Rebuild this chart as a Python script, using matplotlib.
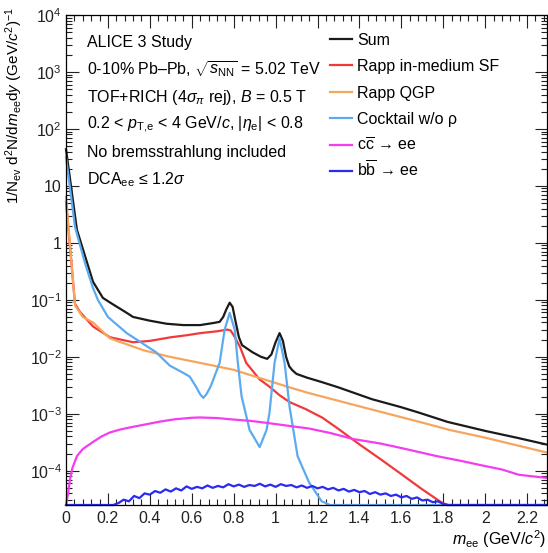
import matplotlib
matplotlib.use("Agg")
import matplotlib.pyplot as plt
import numpy as np
from matplotlib.ticker import MultipleLocator, FixedLocator, FuncFormatter, NullFormatter

plt.rcParams['font.family'] = ['Liberation Sans', 'DejaVu Sans']
plt.rcParams['mathtext.fontset'] = 'custom'
plt.rcParams['mathtext.rm'] = 'Liberation Sans'
plt.rcParams['mathtext.it'] = 'Liberation Sans:italic'
plt.rcParams['mathtext.bf'] = 'Liberation Sans:bold'
plt.rcParams['font.size'] = 11.5

# ---- data (m_ee in GeV/c^2, yield per event) ----
sum_x = [0.0, 0.052, 0.09, 0.129, 0.176, 0.22, 0.29, 0.32, 0.40, 0.48, 0.56, 0.64, 0.70,
         0.733, 0.75, 0.765, 0.781, 0.795, 0.81, 0.825, 0.84, 0.89, 0.93, 0.96, 0.98, 1.00,
         1.019, 1.035, 1.05, 1.065, 1.08, 1.10, 1.15, 1.22, 1.30, 1.46, 1.60, 1.686, 1.82,
         2.00, 2.15, 2.29]
sum_y = [44, 1.7, 0.60, 0.207, 0.108, 0.085, 0.059, 0.050, 0.043, 0.038, 0.036, 0.036, 0.039,
         0.041, 0.050, 0.068, 0.089, 0.075, 0.040, 0.022, 0.016, 0.012, 0.010, 0.0092, 0.011,
         0.018, 0.026, 0.019, 0.010, 0.0068, 0.0058, 0.0050, 0.0043, 0.0036, 0.0029, 0.0018,
         0.0013, 0.00104, 0.00072, 0.00050, 0.00038, 0.00029]

rapp_sf_x = [0.0, 0.043, 0.067, 0.129, 0.21, 0.32, 0.40, 0.50, 0.58, 0.64, 0.72, 0.77, 0.785,
             0.80, 0.83, 0.86, 0.924, 0.97, 1.02, 1.067, 1.145, 1.224, 1.30, 1.40, 1.50, 1.60,
             1.70, 1.79, 1.82]
rapp_sf_y = [5.3, 0.085, 0.061, 0.034, 0.022, 0.018, 0.019, 0.022, 0.024, 0.026, 0.028, 0.030,
             0.029, 0.024, 0.015, 0.0078, 0.0040, 0.0030, 0.0021, 0.0016, 0.0012, 0.00085,
             0.00054, 0.00029, 0.00016, 0.000087, 0.000047, 0.000028, 0.00002]

rapp_qgp_x = [0.0, 0.043, 0.08, 0.129, 0.21, 0.37, 0.495, 0.64, 0.80, 1.067, 1.16, 1.40,
              1.686, 1.83, 2.00, 2.29]
rapp_qgp_y = [6.4, 0.08, 0.050, 0.040, 0.021, 0.013, 0.010, 0.0078, 0.0059, 0.0029, 0.0023,
              0.00135, 0.00072, 0.00052, 0.00038, 0.00021]

cocktail_x = [0.0, 0.043, 0.09, 0.129, 0.152, 0.20, 0.29, 0.43, 0.495, 0.56, 0.59, 0.62, 0.64,
              0.655, 0.67, 0.69, 0.733, 0.757, 0.781, 0.805, 0.82, 0.838, 0.876, 0.924, 0.957,
              0.971, 0.995, 1.019, 1.043, 1.067, 1.105, 1.16, 1.22, 1.26, 2.29]
cocktail_y = [32, 1.9, 0.45, 0.16, 0.10, 0.05, 0.026, 0.012, 0.007, 0.0052, 0.0045, 0.003,
              0.0022, 0.0019, 0.0022, 0.003, 0.0078, 0.030, 0.059, 0.030, 0.0078, 0.002,
              0.00052, 0.00026, 0.00052, 0.00105, 0.0078, 0.021, 0.0078, 0.0013, 0.00018,
              6.2e-5, 2.9e-5, 2e-5, 2e-5]

ccbar_x = [0.0, 0.01, 0.019, 0.03, 0.052, 0.08, 0.129, 0.17, 0.21, 0.26, 0.30, 0.37, 0.45,
           0.52, 0.60, 0.64, 0.68, 0.72, 0.80, 0.88, 0.96, 1.067, 1.16, 1.26, 1.37, 1.50,
           1.60, 1.69, 1.77, 1.88, 1.98, 2.08, 2.16, 2.22, 2.29]
ccbar_y = [2e-5, 4e-5, 7e-5, 1.1e-4, 1.8e-4, 2.4e-4, 3.2e-4, 4.0e-4, 4.7e-4, 5.3e-4, 5.7e-4,
           6.4e-4, 7.3e-4, 8.0e-4, 8.5e-4, 8.6e-4, 8.5e-4, 8.4e-4, 7.9e-4, 7.5e-4, 6.9e-4,
           6.1e-4, 5.5e-4, 4.6e-4, 3.6e-4, 3.0e-4, 2.5e-4, 2.1e-4, 1.8e-4, 1.5e-4, 1.25e-4,
           1.05e-4, 8.5e-5, 8.0e-5, 7.5e-5]

bbbar_x = [0.0, 0.200, 0.225, 0.250, 0.275, 0.300, 0.325, 0.350, 0.375, 0.400, 0.425, 0.450,
           0.475, 0.500, 0.525, 0.550, 0.575, 0.600, 0.625, 0.650, 0.675, 0.700, 0.725,
           0.750, 0.775, 0.800, 0.825, 0.850, 0.875, 0.900, 0.925, 0.950, 0.975, 1.000,
           1.025, 1.050, 1.075, 1.100, 1.125, 1.150, 1.175, 1.200, 1.225, 1.250, 1.275,
           1.300, 1.325, 1.350, 1.375, 1.400, 1.425, 1.450, 1.475, 1.500, 1.525, 1.550,
           1.575, 1.600, 1.625, 1.650, 1.675, 1.700, 1.725, 1.750, 1.775, 1.800, 1.825,
           1.850, 1.875, 2.29]
bbbar_y = [1e-5, 2.0e-5, 2.2e-5, 2.7e-5, 3.1e-5, 2.9e-5, 3.6e-5, 3.3e-5, 4.0e-5, 3.8e-5,
           4.4e-5, 4.1e-5, 4.7e-5, 4.3e-5, 4.9e-5, 4.5e-5, 5.3e-5, 4.8e-5, 5.2e-5, 4.9e-5,
           5.5e-5, 5.0e-5, 5.4e-5, 5.1e-5, 5.8e-5, 5.3e-5, 5.7e-5, 5.2e-5, 5.6e-5, 5.4e-5,
           5.9e-5, 5.3e-5, 5.7e-5, 5.2e-5, 5.8e-5, 5.4e-5, 5.6e-5, 5.1e-5, 5.5e-5, 5.0e-5,
           5.4e-5, 4.9e-5, 5.2e-5, 4.7e-5, 5.0e-5, 4.5e-5, 4.8e-5, 4.3e-5, 4.6e-5, 4.2e-5,
           4.4e-5, 3.9e-5, 4.2e-5, 3.8e-5, 4.0e-5, 3.6e-5, 3.8e-5, 3.4e-5, 3.6e-5, 3.2e-5,
           3.4e-5, 3.0e-5, 3.1e-5, 2.8e-5, 2.9e-5, 2.6e-5, 2.5e-5, 2.2e-5, 1e-5, 1e-5]

series = [
    ("Sum", sum_x, sum_y, "#1a1a1a"),
    ("Rapp in-medium SF", rapp_sf_x, rapp_sf_y, "#f03a3a"),
    ("Rapp QGP", rapp_qgp_x, rapp_qgp_y, "#f6a55e"),
    ("Cocktail w/o ρ", cocktail_x, cocktail_y, "#5caaf0"),
    (r"c$\overline{\mathrm{c}}$ → ee", ccbar_x, ccbar_y, "#f43cf0"),
    (r"b$\overline{\mathrm{b}}$ → ee", bbbar_x, bbbar_y, "#2a2af0"),
]

info_lines = [
    "ALICE 3 Study",
    r"0-10% Pb–Pb, $\sqrt{s_{\mathrm{NN}}}$ = 5.02 TeV",
    r"TOF+RICH (4$\sigma_{\pi}$ rej), $B$ = 0.5 T",
    r"0.2 < $p_{\mathrm{T{,}e}}$ < 4 GeV/$c$, |$\eta_{\mathrm{e}}$| < 0.8",
    "No bremsstrahlung included",
    r"DCA$_{\mathrm{ee}}$ ≤ 1.2$\sigma$",
]

YMIN, YMAX = 2.5e-5, 1e4
XMIN, XMAX = 0.0, 2.295

fig = plt.figure(figsize=(5.48, 5.53), dpi=100)
ax = fig.add_axes([66 / 548, 48 / 553, 481 / 548, 490 / 553])

for label, x, y, c in series:
    ax.plot(x, np.clip(np.array(y), YMIN, None), color=c, lw=1.6, clip_on=False)

ax.set_yscale("log")
ax.set_xlim(XMIN, XMAX)
ax.set_ylim(YMIN, YMAX)

ax.xaxis.set_major_locator(MultipleLocator(0.2))
ax.xaxis.set_minor_locator(MultipleLocator(0.04))
ax.xaxis.set_major_formatter(FuncFormatter(lambda v, p: "%g" % round(v, 3)))


def yfmt(v, pos):
    e = int(round(np.log10(v)))
    if e == 0:
        return "1"
    if e == 1:
        return "10"
    return r"$10^{%d}$" % e


decades = np.arange(-5, 4)
major_y = [10.0 ** e for e in range(-4, 5)]
minor_y = [m * 10.0 ** e for e in decades for m in range(2, 10)
           if YMIN <= m * 10.0 ** e <= YMAX]
ax.yaxis.set_major_locator(FixedLocator(major_y))
ax.yaxis.set_minor_locator(FixedLocator(minor_y))
ax.yaxis.set_major_formatter(FuncFormatter(yfmt))
ax.yaxis.set_minor_formatter(NullFormatter())

ax.tick_params(which="both", direction="in", top=True, right=True, width=0.8,
               labelsize=11.5, colors="#222222")
ax.tick_params(which="major", length=9)
ax.tick_params(which="minor", length=4.5)
ax.tick_params(axis="x", pad=4)
ax.tick_params(axis="y", pad=3)
for s in ax.spines.values():
    s.set_linewidth(0.9)

# info text block
for i, s in enumerate(info_lines):
    ax.text(0.044, 0.9347 - 0.0559 * i, s, transform=ax.transAxes, va="baseline",
            ha="left", fontsize=11.5)

# legend drawn by hand, ROOT style
for i, (label, x, y, c) in enumerate(series):
    yl = 0.9520 - 0.0541 * i
    ax.plot([0.549, 0.595], [yl, yl], transform=ax.transAxes, color=c, lw=1.6)
    ax.text(0.605, yl - 0.0129, label, transform=ax.transAxes, va="baseline",
            ha="left", fontsize=11.5)

fig.text(14 / 548, 1 - 7 / 553,
         r"1/N$_{\mathrm{ev}}$ d$^{2}$N/d$m_{\mathrm{ee}}$d$y$ (GeV/$c^{2}$)$^{-1}$",
         rotation=90, ha="center", va="top", fontsize=11)
fig.text(546 / 548, 8 / 553, r"$m_{\mathrm{ee}}$ (GeV/$c^{2}$)", ha="right",
         va="baseline", fontsize=11.5)

fig.savefig("out.png", dpi=100)
